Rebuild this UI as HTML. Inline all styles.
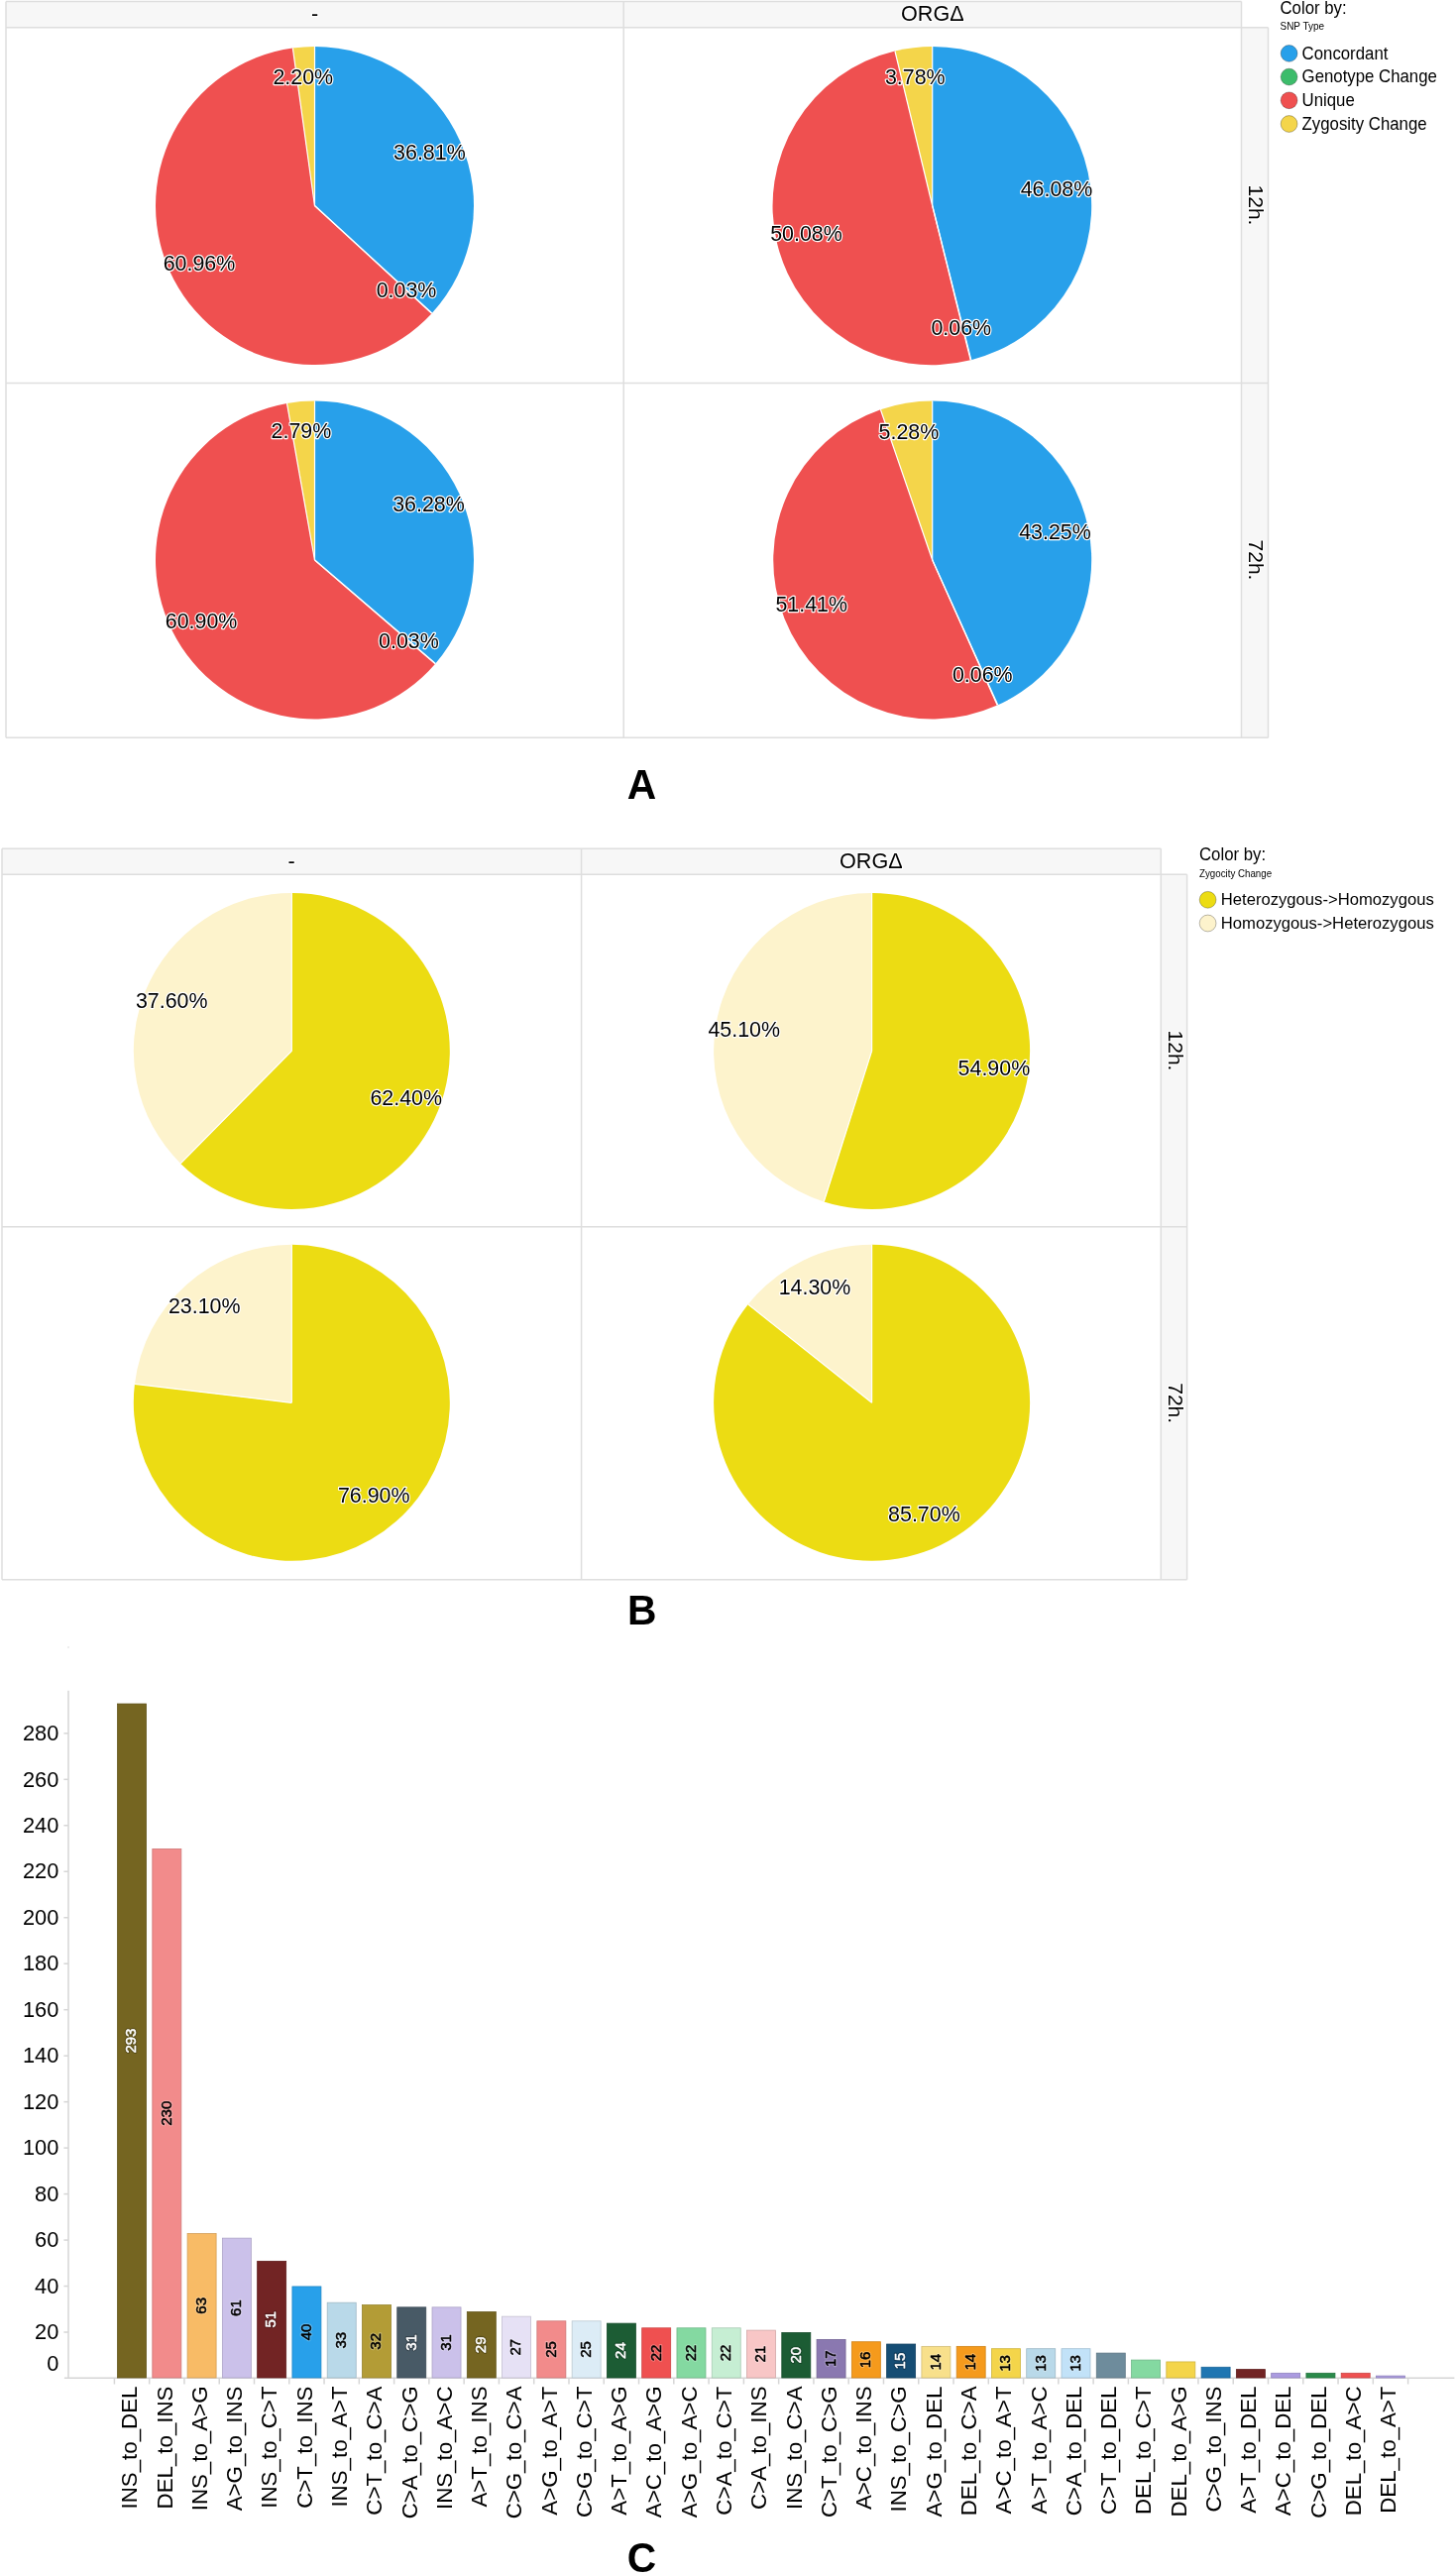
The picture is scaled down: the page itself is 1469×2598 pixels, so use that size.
<!DOCTYPE html><html><head><meta charset="utf-8"><style>
html,body{margin:0;padding:0;background:#fff;}
svg{display:block;will-change:transform;font-family:"Liberation Sans",sans-serif;}
.lbl{text-anchor:middle;fill:#000;stroke:#fff;stroke-width:2.3px;paint-order:stroke;stroke-linejoin:round;}
.hdr{text-anchor:middle;fill:#000;stroke:#fff;stroke-width:2.3px;paint-order:stroke;stroke-linejoin:round;}
.leg{fill:#000;}
.ax{text-anchor:end;fill:#000;}
.xl{text-anchor:end;fill:#000;}
.vl{text-anchor:middle;stroke-linejoin:round;}
.big{text-anchor:middle;font-weight:bold;fill:#000;}
</style></head><body>
<svg width="1469" height="2598" viewBox="0 0 1469 2598">
<rect x="6" y="1.5" width="1246.5" height="26.3" fill="#f7f7f7"/>
<rect x="1252.5" y="27.8" width="27" height="716.5" fill="#f7f7f7"/>
<line x1="6" y1="1.5" x2="1252.5" y2="1.5" stroke="#dedede" stroke-width="1.5"/>
<line x1="6" y1="27.8" x2="1279.5" y2="27.8" stroke="#dedede" stroke-width="1.5"/>
<line x1="6" y1="386.4" x2="1279.5" y2="386.4" stroke="#dedede" stroke-width="1.5"/>
<line x1="6" y1="744.3" x2="1279.5" y2="744.3" stroke="#dedede" stroke-width="1.5"/>
<line x1="6" y1="1.5" x2="6" y2="744.3" stroke="#dedede" stroke-width="1.5"/>
<line x1="629.2" y1="1.5" x2="629.2" y2="744.3" stroke="#dedede" stroke-width="1.5"/>
<line x1="1252.5" y1="1.5" x2="1252.5" y2="744.3" stroke="#dedede" stroke-width="1.5"/>
<line x1="1279.5" y1="27.8" x2="1279.5" y2="744.3" stroke="#dedede" stroke-width="1.5"/>
<text class="hdr" transform="translate(317.5 20.8) scale(1 1.04)" font-size="21.6">-</text>
<text class="hdr" transform="translate(940.8 20.8) scale(1 1.04)" font-size="21.6">ORG&#916;</text>
<text class="hdr" transform="translate(1259.8 207) rotate(90)" x="0" y="0" font-size="21">12h.</text>
<text class="hdr" transform="translate(1259.8 565) rotate(90)" x="0" y="0" font-size="21">72h.</text>
<path d="M317.5 207.5 L317.5 47 A160.5 160.5 0 0 1 435.8 315.97 Z" fill="#28a0ea"/>
<path d="M317.5 207.5 L435.8 315.97 A160.5 160.5 0 0 1 435.6 316.19 Z" fill="#3dbc6b"/>
<path d="M317.5 207.5 L435.6 316.19 A160.5 160.5 0 1 1 295.38 48.53 Z" fill="#ef5050"/>
<path d="M317.5 207.5 L295.38 48.53 A160.5 160.5 0 0 1 317.5 47 Z" fill="#f4d54a"/>
<line x1="317.5" y1="207.5" x2="317.5" y2="47" stroke="#fff" stroke-width="1.2"/>
<line x1="317.5" y1="207.5" x2="435.8" y2="315.97" stroke="#fff" stroke-width="1.2"/>
<line x1="317.5" y1="207.5" x2="435.6" y2="316.19" stroke="#fff" stroke-width="1.2"/>
<line x1="317.5" y1="207.5" x2="295.38" y2="48.53" stroke="#fff" stroke-width="1.2"/>
<path d="M940.7 207.5 L940.7 47 A160.5 160.5 0 0 1 979.83 363.16 Z" fill="#28a0ea"/>
<path d="M940.7 207.5 L979.83 363.16 A160.5 160.5 0 0 1 979.25 363.3 Z" fill="#3dbc6b"/>
<path d="M940.7 207.5 L979.25 363.3 A160.5 160.5 0 1 1 902.94 51.51 Z" fill="#ef5050"/>
<path d="M940.7 207.5 L902.94 51.51 A160.5 160.5 0 0 1 940.7 47 Z" fill="#f4d54a"/>
<line x1="940.7" y1="207.5" x2="940.7" y2="47" stroke="#fff" stroke-width="1.2"/>
<line x1="940.7" y1="207.5" x2="979.83" y2="363.16" stroke="#fff" stroke-width="1.2"/>
<line x1="940.7" y1="207.5" x2="979.25" y2="363.3" stroke="#fff" stroke-width="1.2"/>
<line x1="940.7" y1="207.5" x2="902.94" y2="51.51" stroke="#fff" stroke-width="1.2"/>
<path d="M317.5 565 L317.5 404.5 A160.5 160.5 0 0 1 439.35 669.47 Z" fill="#28a0ea"/>
<path d="M317.5 565 L439.35 669.47 A160.5 160.5 0 0 1 439.15 669.7 Z" fill="#3dbc6b"/>
<path d="M317.5 565 L439.15 669.7 A160.5 160.5 0 1 1 289.51 406.96 Z" fill="#ef5050"/>
<path d="M317.5 565 L289.51 406.96 A160.5 160.5 0 0 1 317.5 404.5 Z" fill="#f4d54a"/>
<line x1="317.5" y1="565" x2="317.5" y2="404.5" stroke="#fff" stroke-width="1.2"/>
<line x1="317.5" y1="565" x2="439.35" y2="669.47" stroke="#fff" stroke-width="1.2"/>
<line x1="317.5" y1="565" x2="439.15" y2="669.7" stroke="#fff" stroke-width="1.2"/>
<line x1="317.5" y1="565" x2="289.51" y2="406.96" stroke="#fff" stroke-width="1.2"/>
<path d="M940.7 565 L940.7 404.5 A160.5 160.5 0 0 1 1006.75 711.28 Z" fill="#28a0ea"/>
<path d="M940.7 565 L1006.75 711.28 A160.5 160.5 0 0 1 1006.2 711.53 Z" fill="#3dbc6b"/>
<path d="M940.7 565 L1006.2 711.53 A160.5 160.5 0 1 1 888.43 413.25 Z" fill="#ef5050"/>
<path d="M940.7 565 L888.43 413.25 A160.5 160.5 0 0 1 940.7 404.5 Z" fill="#f4d54a"/>
<line x1="940.7" y1="565" x2="940.7" y2="404.5" stroke="#fff" stroke-width="1.2"/>
<line x1="940.7" y1="565" x2="1006.75" y2="711.28" stroke="#fff" stroke-width="1.2"/>
<line x1="940.7" y1="565" x2="1006.2" y2="711.53" stroke="#fff" stroke-width="1.2"/>
<line x1="940.7" y1="565" x2="888.43" y2="413.25" stroke="#fff" stroke-width="1.2"/>
<text class="lbl" transform="translate(305.8 84.9) scale(1 1.04)" font-size="21.4">2.20%</text>
<text class="lbl" transform="translate(433.4 161.3) scale(1 1.04)" font-size="21.4">36.81%</text>
<text class="lbl" transform="translate(201 273.3) scale(1 1.04)" font-size="21.4">60.96%</text>
<text class="lbl" transform="translate(410 299.7) scale(1 1.04)" font-size="21.4">0.03%</text>
<text class="lbl" transform="translate(923.3 84.9) scale(1 1.04)" font-size="21.4">3.78%</text>
<text class="lbl" transform="translate(1066 197.5) scale(1 1.04)" font-size="21.4">46.08%</text>
<text class="lbl" transform="translate(813.5 243.2) scale(1 1.04)" font-size="21.4">50.08%</text>
<text class="lbl" transform="translate(969.8 338.3) scale(1 1.04)" font-size="21.4">0.06%</text>
<text class="lbl" transform="translate(303.9 442.4) scale(1 1.04)" font-size="21.4">2.79%</text>
<text class="lbl" transform="translate(432.5 516) scale(1 1.04)" font-size="21.4">36.28%</text>
<text class="lbl" transform="translate(203.1 634.4) scale(1 1.04)" font-size="21.4">60.90%</text>
<text class="lbl" transform="translate(412.4 654.2) scale(1 1.04)" font-size="21.4">0.03%</text>
<text class="lbl" transform="translate(916.9 442.9) scale(1 1.04)" font-size="21.4">5.28%</text>
<text class="lbl" transform="translate(1064.5 543.8) scale(1 1.04)" font-size="21.4">43.25%</text>
<text class="lbl" transform="translate(818.7 617.3) scale(1 1.04)" font-size="21.4">51.41%</text>
<text class="lbl" transform="translate(991.3 687.6) scale(1 1.04)" font-size="21.4">0.06%</text>
<text class="leg" transform="translate(1291.5 13.6) scale(1 1.04)" font-size="16.8">Color by:</text>
<text class="leg" transform="translate(1291.5 30.4) scale(1 1.04)" font-size="10">SNP Type</text>
<circle cx="1300.6" cy="53.9" r="8.4" fill="#28a0ea" stroke="rgba(0,0,0,0.35)" stroke-width="0.8"/>
<text class="leg" transform="translate(1313.6 59.5) scale(1 1.04)" font-size="16.8">Concordant</text>
<circle cx="1300.6" cy="77.6" r="8.4" fill="#3dbc6b" stroke="rgba(0,0,0,0.35)" stroke-width="0.8"/>
<text class="leg" transform="translate(1313.6 83.2) scale(1 1.04)" font-size="16.8">Genotype Change</text>
<circle cx="1300.6" cy="101.3" r="8.4" fill="#ef5050" stroke="rgba(0,0,0,0.35)" stroke-width="0.8"/>
<text class="leg" transform="translate(1313.6 106.9) scale(1 1.04)" font-size="16.8">Unique</text>
<circle cx="1300.6" cy="125" r="8.4" fill="#f4d54a" stroke="rgba(0,0,0,0.35)" stroke-width="0.8"/>
<text class="leg" transform="translate(1313.6 130.6) scale(1 1.04)" font-size="16.8">Zygosity Change</text>
<text class="big" transform="translate(647.4 806) scale(1 1.04)" font-size="40.8">A</text>
<rect x="2" y="856.2" width="1169.3" height="26.1" fill="#f7f7f7"/>
<rect x="1171.3" y="882.3" width="26.3" height="711.4" fill="#f7f7f7"/>
<line x1="2" y1="856.2" x2="1171.3" y2="856.2" stroke="#dedede" stroke-width="1.5"/>
<line x1="2" y1="882.3" x2="1197.6" y2="882.3" stroke="#dedede" stroke-width="1.5"/>
<line x1="2" y1="1237.8" x2="1197.6" y2="1237.8" stroke="#dedede" stroke-width="1.5"/>
<line x1="2" y1="1593.7" x2="1197.6" y2="1593.7" stroke="#dedede" stroke-width="1.5"/>
<line x1="2" y1="856.2" x2="2" y2="1593.7" stroke="#dedede" stroke-width="1.5"/>
<line x1="586.6" y1="856.2" x2="586.6" y2="1593.7" stroke="#dedede" stroke-width="1.5"/>
<line x1="1171.3" y1="856.2" x2="1171.3" y2="1593.7" stroke="#dedede" stroke-width="1.5"/>
<line x1="1197.6" y1="882.3" x2="1197.6" y2="1593.7" stroke="#dedede" stroke-width="1.5"/>
<text class="hdr" transform="translate(294.1 875.5) scale(1 1.04)" font-size="21.6">-</text>
<text class="hdr" transform="translate(878.8 875.5) scale(1 1.04)" font-size="21.6">ORG&#916;</text>
<text class="hdr" transform="translate(1178.6 1060) rotate(90)" x="0" y="0" font-size="21">12h.</text>
<text class="hdr" transform="translate(1178.6 1415.7) rotate(90)" x="0" y="0" font-size="21">72h.</text>
<path d="M294.3 1060.4 L294.3 900.9 A159.5 159.5 0 1 1 182.23 1173.89 Z" fill="#ecdc13"/>
<path d="M294.3 1060.4 L182.23 1173.89 A159.5 159.5 0 0 1 294.3 900.9 Z" fill="#fdf3cc"/>
<line x1="294.3" y1="1060.4" x2="294.3" y2="900.9" stroke="#fff" stroke-width="1.2"/>
<line x1="294.3" y1="1060.4" x2="182.23" y2="1173.89" stroke="#fff" stroke-width="1.2"/>
<path d="M879.6 1060.4 L879.6 900.9 A159.5 159.5 0 1 1 831.27 1212.4 Z" fill="#ecdc13"/>
<path d="M879.6 1060.4 L831.27 1212.4 A159.5 159.5 0 0 1 879.6 900.9 Z" fill="#fdf3cc"/>
<line x1="879.6" y1="1060.4" x2="879.6" y2="900.9" stroke="#fff" stroke-width="1.2"/>
<line x1="879.6" y1="1060.4" x2="831.27" y2="1212.4" stroke="#fff" stroke-width="1.2"/>
<path d="M294.3 1415.3 L294.3 1255.8 A159.5 159.5 0 1 1 135.94 1396.3 Z" fill="#ecdc13"/>
<path d="M294.3 1415.3 L135.94 1396.3 A159.5 159.5 0 0 1 294.3 1255.8 Z" fill="#fdf3cc"/>
<line x1="294.3" y1="1415.3" x2="294.3" y2="1255.8" stroke="#fff" stroke-width="1.2"/>
<line x1="294.3" y1="1415.3" x2="135.94" y2="1396.3" stroke="#fff" stroke-width="1.2"/>
<path d="M879.6 1415.3 L879.6 1255.8 A159.5 159.5 0 1 1 754.81 1315.97 Z" fill="#ecdc13"/>
<path d="M879.6 1415.3 L754.81 1315.97 A159.5 159.5 0 0 1 879.6 1255.8 Z" fill="#fdf3cc"/>
<line x1="879.6" y1="1415.3" x2="879.6" y2="1255.8" stroke="#fff" stroke-width="1.2"/>
<line x1="879.6" y1="1415.3" x2="754.81" y2="1315.97" stroke="#fff" stroke-width="1.2"/>
<text class="lbl" transform="translate(173.2 1017.3) scale(1 1.04)" font-size="21.4">37.60%</text>
<text class="lbl" transform="translate(409.7 1114.7) scale(1 1.04)" font-size="21.4">62.40%</text>
<text class="lbl" transform="translate(750.7 1045.8) scale(1 1.04)" font-size="21.4">45.10%</text>
<text class="lbl" transform="translate(1002.9 1085) scale(1 1.04)" font-size="21.4">54.90%</text>
<text class="lbl" transform="translate(206.2 1324.9) scale(1 1.04)" font-size="21.4">23.10%</text>
<text class="lbl" transform="translate(377.2 1516.4) scale(1 1.04)" font-size="21.4">76.90%</text>
<text class="lbl" transform="translate(822 1305.8) scale(1 1.04)" font-size="21.4">14.30%</text>
<text class="lbl" transform="translate(932.4 1535.1) scale(1 1.04)" font-size="21.4">85.70%</text>
<text class="leg" transform="translate(1210 867.8) scale(1 1.04)" font-size="16.8">Color by:</text>
<text class="leg" transform="translate(1210 885) scale(1 1.04)" font-size="9.75">Zygocity Change</text>
<circle cx="1218.6" cy="907.8" r="8.4" fill="#ecdc13" stroke="rgba(0,0,0,0.35)" stroke-width="0.8"/>
<text class="leg" transform="translate(1231.8 913.4) scale(1 1.04)" font-size="16.65">Heterozygous-&gt;Homozygous</text>
<circle cx="1218.6" cy="931.5" r="8.4" fill="#fdf3cc" stroke="rgba(0,0,0,0.35)" stroke-width="0.8"/>
<text class="leg" transform="translate(1231.8 937.1) scale(1 1.04)" font-size="16.65">Homozygous-&gt;Heterozygous</text>
<text class="big" transform="translate(647.8 1638.6) scale(1 1.04)" font-size="40.8">B</text>
<line x1="69" y1="1705.8" x2="69" y2="2399.5" stroke="#d6d6d6" stroke-width="1.5"/>
<rect x="68.5" y="1661.5" width="1" height="1" fill="#bbb"/>
<line x1="64.9" y1="2399.3" x2="1467.4" y2="2399.3" stroke="#d6d6d6" stroke-width="1.5"/>
<line x1="64.4" y1="2353.02" x2="69" y2="2353.02" stroke="#d6d6d6" stroke-width="1.5"/>
<text class="ax" transform="translate(59.3 2360.22) scale(1 1.04)" font-size="21.8">20</text>
<line x1="64.4" y1="2306.55" x2="69" y2="2306.55" stroke="#d6d6d6" stroke-width="1.5"/>
<text class="ax" transform="translate(59.3 2313.75) scale(1 1.04)" font-size="21.8">40</text>
<line x1="64.4" y1="2260.07" x2="69" y2="2260.07" stroke="#d6d6d6" stroke-width="1.5"/>
<text class="ax" transform="translate(59.3 2267.27) scale(1 1.04)" font-size="21.8">60</text>
<line x1="64.4" y1="2213.6" x2="69" y2="2213.6" stroke="#d6d6d6" stroke-width="1.5"/>
<text class="ax" transform="translate(59.3 2220.8) scale(1 1.04)" font-size="21.8">80</text>
<line x1="64.4" y1="2167.12" x2="69" y2="2167.12" stroke="#d6d6d6" stroke-width="1.5"/>
<text class="ax" transform="translate(59.3 2174.32) scale(1 1.04)" font-size="21.8">100</text>
<line x1="64.4" y1="2120.64" x2="69" y2="2120.64" stroke="#d6d6d6" stroke-width="1.5"/>
<text class="ax" transform="translate(59.3 2127.84) scale(1 1.04)" font-size="21.8">120</text>
<line x1="64.4" y1="2074.17" x2="69" y2="2074.17" stroke="#d6d6d6" stroke-width="1.5"/>
<text class="ax" transform="translate(59.3 2081.37) scale(1 1.04)" font-size="21.8">140</text>
<line x1="64.4" y1="2027.69" x2="69" y2="2027.69" stroke="#d6d6d6" stroke-width="1.5"/>
<text class="ax" transform="translate(59.3 2034.89) scale(1 1.04)" font-size="21.8">160</text>
<line x1="64.4" y1="1981.22" x2="69" y2="1981.22" stroke="#d6d6d6" stroke-width="1.5"/>
<text class="ax" transform="translate(59.3 1988.42) scale(1 1.04)" font-size="21.8">180</text>
<line x1="64.4" y1="1934.74" x2="69" y2="1934.74" stroke="#d6d6d6" stroke-width="1.5"/>
<text class="ax" transform="translate(59.3 1941.94) scale(1 1.04)" font-size="21.8">200</text>
<line x1="64.4" y1="1888.26" x2="69" y2="1888.26" stroke="#d6d6d6" stroke-width="1.5"/>
<text class="ax" transform="translate(59.3 1895.46) scale(1 1.04)" font-size="21.8">220</text>
<line x1="64.4" y1="1841.79" x2="69" y2="1841.79" stroke="#d6d6d6" stroke-width="1.5"/>
<text class="ax" transform="translate(59.3 1848.99) scale(1 1.04)" font-size="21.8">240</text>
<line x1="64.4" y1="1795.31" x2="69" y2="1795.31" stroke="#d6d6d6" stroke-width="1.5"/>
<text class="ax" transform="translate(59.3 1802.51) scale(1 1.04)" font-size="21.8">260</text>
<line x1="64.4" y1="1748.84" x2="69" y2="1748.84" stroke="#d6d6d6" stroke-width="1.5"/>
<text class="ax" transform="translate(59.3 1756.04) scale(1 1.04)" font-size="21.8">280</text>
<text class="ax" transform="translate(59.3 2392.2) scale(1 1.04)" font-size="21.8">0</text>
<line x1="115.4" y1="2399.3" x2="115.4" y2="2405.5" stroke="#d6d6d6" stroke-width="1.5"/>
<line x1="150.68" y1="2399.3" x2="150.68" y2="2405.5" stroke="#d6d6d6" stroke-width="1.5"/>
<line x1="185.95" y1="2399.3" x2="185.95" y2="2405.5" stroke="#d6d6d6" stroke-width="1.5"/>
<line x1="221.23" y1="2399.3" x2="221.23" y2="2405.5" stroke="#d6d6d6" stroke-width="1.5"/>
<line x1="256.5" y1="2399.3" x2="256.5" y2="2405.5" stroke="#d6d6d6" stroke-width="1.5"/>
<line x1="291.78" y1="2399.3" x2="291.78" y2="2405.5" stroke="#d6d6d6" stroke-width="1.5"/>
<line x1="327.06" y1="2399.3" x2="327.06" y2="2405.5" stroke="#d6d6d6" stroke-width="1.5"/>
<line x1="362.33" y1="2399.3" x2="362.33" y2="2405.5" stroke="#d6d6d6" stroke-width="1.5"/>
<line x1="397.61" y1="2399.3" x2="397.61" y2="2405.5" stroke="#d6d6d6" stroke-width="1.5"/>
<line x1="432.88" y1="2399.3" x2="432.88" y2="2405.5" stroke="#d6d6d6" stroke-width="1.5"/>
<line x1="468.16" y1="2399.3" x2="468.16" y2="2405.5" stroke="#d6d6d6" stroke-width="1.5"/>
<line x1="503.44" y1="2399.3" x2="503.44" y2="2405.5" stroke="#d6d6d6" stroke-width="1.5"/>
<line x1="538.71" y1="2399.3" x2="538.71" y2="2405.5" stroke="#d6d6d6" stroke-width="1.5"/>
<line x1="573.99" y1="2399.3" x2="573.99" y2="2405.5" stroke="#d6d6d6" stroke-width="1.5"/>
<line x1="609.26" y1="2399.3" x2="609.26" y2="2405.5" stroke="#d6d6d6" stroke-width="1.5"/>
<line x1="644.54" y1="2399.3" x2="644.54" y2="2405.5" stroke="#d6d6d6" stroke-width="1.5"/>
<line x1="679.82" y1="2399.3" x2="679.82" y2="2405.5" stroke="#d6d6d6" stroke-width="1.5"/>
<line x1="715.09" y1="2399.3" x2="715.09" y2="2405.5" stroke="#d6d6d6" stroke-width="1.5"/>
<line x1="750.37" y1="2399.3" x2="750.37" y2="2405.5" stroke="#d6d6d6" stroke-width="1.5"/>
<line x1="785.64" y1="2399.3" x2="785.64" y2="2405.5" stroke="#d6d6d6" stroke-width="1.5"/>
<line x1="820.92" y1="2399.3" x2="820.92" y2="2405.5" stroke="#d6d6d6" stroke-width="1.5"/>
<line x1="856.2" y1="2399.3" x2="856.2" y2="2405.5" stroke="#d6d6d6" stroke-width="1.5"/>
<line x1="891.47" y1="2399.3" x2="891.47" y2="2405.5" stroke="#d6d6d6" stroke-width="1.5"/>
<line x1="926.75" y1="2399.3" x2="926.75" y2="2405.5" stroke="#d6d6d6" stroke-width="1.5"/>
<line x1="962.02" y1="2399.3" x2="962.02" y2="2405.5" stroke="#d6d6d6" stroke-width="1.5"/>
<line x1="997.3" y1="2399.3" x2="997.3" y2="2405.5" stroke="#d6d6d6" stroke-width="1.5"/>
<line x1="1032.58" y1="2399.3" x2="1032.58" y2="2405.5" stroke="#d6d6d6" stroke-width="1.5"/>
<line x1="1067.85" y1="2399.3" x2="1067.85" y2="2405.5" stroke="#d6d6d6" stroke-width="1.5"/>
<line x1="1103.13" y1="2399.3" x2="1103.13" y2="2405.5" stroke="#d6d6d6" stroke-width="1.5"/>
<line x1="1138.4" y1="2399.3" x2="1138.4" y2="2405.5" stroke="#d6d6d6" stroke-width="1.5"/>
<line x1="1173.68" y1="2399.3" x2="1173.68" y2="2405.5" stroke="#d6d6d6" stroke-width="1.5"/>
<line x1="1208.96" y1="2399.3" x2="1208.96" y2="2405.5" stroke="#d6d6d6" stroke-width="1.5"/>
<line x1="1244.23" y1="2399.3" x2="1244.23" y2="2405.5" stroke="#d6d6d6" stroke-width="1.5"/>
<line x1="1279.51" y1="2399.3" x2="1279.51" y2="2405.5" stroke="#d6d6d6" stroke-width="1.5"/>
<line x1="1314.78" y1="2399.3" x2="1314.78" y2="2405.5" stroke="#d6d6d6" stroke-width="1.5"/>
<line x1="1350.06" y1="2399.3" x2="1350.06" y2="2405.5" stroke="#d6d6d6" stroke-width="1.5"/>
<line x1="1385.34" y1="2399.3" x2="1385.34" y2="2405.5" stroke="#d6d6d6" stroke-width="1.5"/>
<line x1="1420.61" y1="2399.3" x2="1420.61" y2="2405.5" stroke="#d6d6d6" stroke-width="1.5"/>
<rect x="118.55" y="1719.03" width="29" height="679.97" fill="#756521" stroke="#63561c" stroke-width="0.8"/>
<text class="xl" transform="translate(138.35 2407.5) rotate(-90)" x="0" y="0" font-size="22.3">INS_to_DEL</text>
<text class="vl" transform="translate(133.05 2059.06) rotate(-90)" x="0" y="4.3" font-size="15" fill="none" stroke="#403812" stroke-width="2.6" opacity="0.55">293</text>
<text class="vl" transform="translate(133.05 2059.06) rotate(-90)" x="0" y="4.3" font-size="15" fill="#fff" stroke="#fff" stroke-width="0.5">293</text>
<rect x="153.83" y="1865.43" width="29" height="533.57" fill="#f28b8b" stroke="#ce7676" stroke-width="0.8"/>
<text class="xl" transform="translate(173.63 2407.5) rotate(-90)" x="0" y="0" font-size="22.3">DEL_to_INS</text>
<text class="vl" transform="translate(168.33 2132.26) rotate(-90)" x="0" y="4.3" font-size="15" fill="none" stroke="#f8bfbf" stroke-width="2.6" opacity="0.55">230</text>
<text class="vl" transform="translate(168.33 2132.26) rotate(-90)" x="0" y="4.3" font-size="15" fill="#000" stroke="#000" stroke-width="0.5">230</text>
<rect x="189.1" y="2253.5" width="29" height="145.5" fill="#f8bb66" stroke="#d39f57" stroke-width="0.8"/>
<text class="xl" transform="translate(208.9 2407.5) rotate(-90)" x="0" y="0" font-size="22.3">INS_to_A&gt;G</text>
<text class="vl" transform="translate(203.6 2326.3) rotate(-90)" x="0" y="4.3" font-size="15" fill="none" stroke="#fbdaab" stroke-width="2.6" opacity="0.55">63</text>
<text class="vl" transform="translate(203.6 2326.3) rotate(-90)" x="0" y="4.3" font-size="15" fill="#000" stroke="#000" stroke-width="0.5">63</text>
<rect x="224.38" y="2258.15" width="29" height="140.85" fill="#cbc1ea" stroke="#ada4c7" stroke-width="0.8"/>
<text class="xl" transform="translate(244.18 2407.5) rotate(-90)" x="0" y="0" font-size="22.3">A&gt;G_to_INS</text>
<text class="vl" transform="translate(238.88 2328.62) rotate(-90)" x="0" y="4.3" font-size="15" fill="none" stroke="#e2ddf3" stroke-width="2.6" opacity="0.55">61</text>
<text class="vl" transform="translate(238.88 2328.62) rotate(-90)" x="0" y="4.3" font-size="15" fill="#000" stroke="#000" stroke-width="0.5">61</text>
<rect x="259.65" y="2281.39" width="29" height="117.61" fill="#722424" stroke="#611f1f" stroke-width="0.8"/>
<text class="xl" transform="translate(279.45 2407.5) rotate(-90)" x="0" y="0" font-size="22.3">INS_to_C&gt;T</text>
<text class="vl" transform="translate(274.15 2340.24) rotate(-90)" x="0" y="4.3" font-size="15" fill="none" stroke="#3f1414" stroke-width="2.6" opacity="0.55">51</text>
<text class="vl" transform="translate(274.15 2340.24) rotate(-90)" x="0" y="4.3" font-size="15" fill="#fff" stroke="#fff" stroke-width="0.5">51</text>
<rect x="294.93" y="2306.95" width="29" height="92.05" fill="#28a0ea" stroke="#2288c7" stroke-width="0.8"/>
<text class="xl" transform="translate(314.73 2407.5) rotate(-90)" x="0" y="0" font-size="22.3">C&gt;T_to_INS</text>
<text class="vl" transform="translate(309.43 2353.02) rotate(-90)" x="0" y="4.3" font-size="15" fill="none" stroke="#89cbf3" stroke-width="2.6" opacity="0.55">40</text>
<text class="vl" transform="translate(309.43 2353.02) rotate(-90)" x="0" y="4.3" font-size="15" fill="#000" stroke="#000" stroke-width="0.5">40</text>
<rect x="330.21" y="2323.21" width="29" height="75.79" fill="#b9d9e9" stroke="#9db8c6" stroke-width="0.8"/>
<text class="xl" transform="translate(350.01 2407.5) rotate(-90)" x="0" y="0" font-size="22.3">INS_to_A&gt;T</text>
<text class="vl" transform="translate(344.71 2361.16) rotate(-90)" x="0" y="4.3" font-size="15" fill="none" stroke="#d8eaf3" stroke-width="2.6" opacity="0.55">33</text>
<text class="vl" transform="translate(344.71 2361.16) rotate(-90)" x="0" y="4.3" font-size="15" fill="#000" stroke="#000" stroke-width="0.5">33</text>
<rect x="365.48" y="2325.54" width="29" height="73.46" fill="#b39c36" stroke="#98852e" stroke-width="0.8"/>
<text class="xl" transform="translate(385.28 2407.5) rotate(-90)" x="0" y="0" font-size="22.3">C&gt;T_to_C&gt;A</text>
<text class="vl" transform="translate(379.98 2362.32) rotate(-90)" x="0" y="4.3" font-size="15" fill="none" stroke="#d5c990" stroke-width="2.6" opacity="0.55">32</text>
<text class="vl" transform="translate(379.98 2362.32) rotate(-90)" x="0" y="4.3" font-size="15" fill="#000" stroke="#000" stroke-width="0.5">32</text>
<rect x="400.76" y="2327.86" width="29" height="71.14" fill="#485a66" stroke="#3d4c57" stroke-width="0.8"/>
<text class="xl" transform="translate(420.56 2407.5) rotate(-90)" x="0" y="0" font-size="22.3">C&gt;A_to_C&gt;G</text>
<text class="vl" transform="translate(415.26 2363.48) rotate(-90)" x="0" y="4.3" font-size="15" fill="none" stroke="#283238" stroke-width="2.6" opacity="0.55">31</text>
<text class="vl" transform="translate(415.26 2363.48) rotate(-90)" x="0" y="4.3" font-size="15" fill="#fff" stroke="#fff" stroke-width="0.5">31</text>
<rect x="436.03" y="2327.86" width="29" height="71.14" fill="#cbc1ea" stroke="#ada4c7" stroke-width="0.8"/>
<text class="xl" transform="translate(455.83 2407.5) rotate(-90)" x="0" y="0" font-size="22.3">INS_to_A&gt;C</text>
<text class="vl" transform="translate(450.53 2363.48) rotate(-90)" x="0" y="4.3" font-size="15" fill="none" stroke="#e2ddf3" stroke-width="2.6" opacity="0.55">31</text>
<text class="vl" transform="translate(450.53 2363.48) rotate(-90)" x="0" y="4.3" font-size="15" fill="#000" stroke="#000" stroke-width="0.5">31</text>
<rect x="471.31" y="2332.51" width="29" height="66.49" fill="#756521" stroke="#63561c" stroke-width="0.8"/>
<text class="xl" transform="translate(491.11 2407.5) rotate(-90)" x="0" y="0" font-size="22.3">A&gt;T_to_INS</text>
<text class="vl" transform="translate(485.81 2365.8) rotate(-90)" x="0" y="4.3" font-size="15" fill="none" stroke="#403812" stroke-width="2.6" opacity="0.55">29</text>
<text class="vl" transform="translate(485.81 2365.8) rotate(-90)" x="0" y="4.3" font-size="15" fill="#fff" stroke="#fff" stroke-width="0.5">29</text>
<rect x="506.59" y="2337.16" width="29" height="61.84" fill="#e6e1f5" stroke="#c4bfd0" stroke-width="0.8"/>
<text class="xl" transform="translate(526.39 2407.5) rotate(-90)" x="0" y="0" font-size="22.3">C&gt;G_to_C&gt;A</text>
<text class="vl" transform="translate(521.09 2368.13) rotate(-90)" x="0" y="4.3" font-size="15" fill="none" stroke="#f1eefa" stroke-width="2.6" opacity="0.55">27</text>
<text class="vl" transform="translate(521.09 2368.13) rotate(-90)" x="0" y="4.3" font-size="15" fill="#000" stroke="#000" stroke-width="0.5">27</text>
<rect x="541.86" y="2341.81" width="29" height="57.19" fill="#f28b8b" stroke="#ce7676" stroke-width="0.8"/>
<text class="xl" transform="translate(561.66 2407.5) rotate(-90)" x="0" y="0" font-size="22.3">A&gt;G_to_A&gt;T</text>
<text class="vl" transform="translate(556.36 2370.45) rotate(-90)" x="0" y="4.3" font-size="15" fill="none" stroke="#f8bfbf" stroke-width="2.6" opacity="0.55">25</text>
<text class="vl" transform="translate(556.36 2370.45) rotate(-90)" x="0" y="4.3" font-size="15" fill="#000" stroke="#000" stroke-width="0.5">25</text>
<rect x="577.14" y="2341.81" width="29" height="57.19" fill="#dcecf6" stroke="#bbc9d1" stroke-width="0.8"/>
<text class="xl" transform="translate(596.94 2407.5) rotate(-90)" x="0" y="0" font-size="22.3">C&gt;G_to_C&gt;T</text>
<text class="vl" transform="translate(591.64 2370.45) rotate(-90)" x="0" y="4.3" font-size="15" fill="none" stroke="#ecf5fa" stroke-width="2.6" opacity="0.55">25</text>
<text class="vl" transform="translate(591.64 2370.45) rotate(-90)" x="0" y="4.3" font-size="15" fill="#000" stroke="#000" stroke-width="0.5">25</text>
<rect x="612.41" y="2344.13" width="29" height="54.87" fill="#1c5c34" stroke="#184e2c" stroke-width="0.8"/>
<text class="xl" transform="translate(632.21 2407.5) rotate(-90)" x="0" y="0" font-size="22.3">A&gt;T_to_A&gt;G</text>
<text class="vl" transform="translate(626.91 2371.61) rotate(-90)" x="0" y="4.3" font-size="15" fill="none" stroke="#0f331d" stroke-width="2.6" opacity="0.55">24</text>
<text class="vl" transform="translate(626.91 2371.61) rotate(-90)" x="0" y="4.3" font-size="15" fill="#fff" stroke="#fff" stroke-width="0.5">24</text>
<rect x="647.69" y="2348.78" width="29" height="50.22" fill="#ef5050" stroke="#cb4444" stroke-width="0.8"/>
<text class="xl" transform="translate(667.49 2407.5) rotate(-90)" x="0" y="0" font-size="22.3">A&gt;C_to_A&gt;G</text>
<text class="vl" transform="translate(662.19 2373.94) rotate(-90)" x="0" y="4.3" font-size="15" fill="none" stroke="#f69f9f" stroke-width="2.6" opacity="0.55">22</text>
<text class="vl" transform="translate(662.19 2373.94) rotate(-90)" x="0" y="4.3" font-size="15" fill="#000" stroke="#000" stroke-width="0.5">22</text>
<rect x="682.97" y="2348.78" width="29" height="50.22" fill="#84d9a1" stroke="#70b889" stroke-width="0.8"/>
<text class="xl" transform="translate(702.77 2407.5) rotate(-90)" x="0" y="0" font-size="22.3">A&gt;G_to_A&gt;C</text>
<text class="vl" transform="translate(697.47 2373.94) rotate(-90)" x="0" y="4.3" font-size="15" fill="none" stroke="#bbeacb" stroke-width="2.6" opacity="0.55">22</text>
<text class="vl" transform="translate(697.47 2373.94) rotate(-90)" x="0" y="4.3" font-size="15" fill="#000" stroke="#000" stroke-width="0.5">22</text>
<rect x="718.24" y="2348.78" width="29" height="50.22" fill="#c6eed3" stroke="#a8cab3" stroke-width="0.8"/>
<text class="xl" transform="translate(738.04 2407.5) rotate(-90)" x="0" y="0" font-size="22.3">C&gt;A_to_C&gt;T</text>
<text class="vl" transform="translate(732.74 2373.94) rotate(-90)" x="0" y="4.3" font-size="15" fill="none" stroke="#e0f6e7" stroke-width="2.6" opacity="0.55">22</text>
<text class="vl" transform="translate(732.74 2373.94) rotate(-90)" x="0" y="4.3" font-size="15" fill="#000" stroke="#000" stroke-width="0.5">22</text>
<rect x="753.52" y="2351.1" width="29" height="47.9" fill="#f8c6c6" stroke="#d3a8a8" stroke-width="0.8"/>
<text class="xl" transform="translate(773.32 2407.5) rotate(-90)" x="0" y="0" font-size="22.3">C&gt;A_to_INS</text>
<text class="vl" transform="translate(768.02 2375.1) rotate(-90)" x="0" y="4.3" font-size="15" fill="none" stroke="#fbe0e0" stroke-width="2.6" opacity="0.55">21</text>
<text class="vl" transform="translate(768.02 2375.1) rotate(-90)" x="0" y="4.3" font-size="15" fill="#000" stroke="#000" stroke-width="0.5">21</text>
<rect x="788.79" y="2353.42" width="29" height="45.58" fill="#1c5c34" stroke="#184e2c" stroke-width="0.8"/>
<text class="xl" transform="translate(808.59 2407.5) rotate(-90)" x="0" y="0" font-size="22.3">INS_to_C&gt;A</text>
<text class="vl" transform="translate(803.29 2376.26) rotate(-90)" x="0" y="4.3" font-size="15" fill="none" stroke="#0f331d" stroke-width="2.6" opacity="0.55">20</text>
<text class="vl" transform="translate(803.29 2376.26) rotate(-90)" x="0" y="4.3" font-size="15" fill="#fff" stroke="#fff" stroke-width="0.5">20</text>
<rect x="824.07" y="2360.4" width="29" height="38.6" fill="#8a78b0" stroke="#756696" stroke-width="0.8"/>
<text class="xl" transform="translate(843.87 2407.5) rotate(-90)" x="0" y="0" font-size="22.3">C&gt;T_to_C&gt;G</text>
<text class="vl" transform="translate(838.57 2379.75) rotate(-90)" x="0" y="4.3" font-size="15" fill="none" stroke="#bfb5d4" stroke-width="2.6" opacity="0.55">17</text>
<text class="vl" transform="translate(838.57 2379.75) rotate(-90)" x="0" y="4.3" font-size="15" fill="#000" stroke="#000" stroke-width="0.5">17</text>
<rect x="859.35" y="2362.72" width="29" height="36.28" fill="#f59a1c" stroke="#d08318" stroke-width="0.8"/>
<text class="xl" transform="translate(879.15 2407.5) rotate(-90)" x="0" y="0" font-size="22.3">A&gt;C_to_INS</text>
<text class="vl" transform="translate(873.85 2380.91) rotate(-90)" x="0" y="4.3" font-size="15" fill="none" stroke="#fac782" stroke-width="2.6" opacity="0.55">16</text>
<text class="vl" transform="translate(873.85 2380.91) rotate(-90)" x="0" y="4.3" font-size="15" fill="#000" stroke="#000" stroke-width="0.5">16</text>
<rect x="894.62" y="2365.04" width="29" height="33.96" fill="#154d74" stroke="#124163" stroke-width="0.8"/>
<text class="xl" transform="translate(914.42 2407.5) rotate(-90)" x="0" y="0" font-size="22.3">INS_to_C&gt;G</text>
<text class="vl" transform="translate(909.12 2382.07) rotate(-90)" x="0" y="4.3" font-size="15" fill="none" stroke="#0c2a40" stroke-width="2.6" opacity="0.55">15</text>
<text class="vl" transform="translate(909.12 2382.07) rotate(-90)" x="0" y="4.3" font-size="15" fill="#fff" stroke="#fff" stroke-width="0.5">15</text>
<rect x="929.9" y="2367.37" width="29" height="31.63" fill="#f8e08b" stroke="#d3be76" stroke-width="0.8"/>
<text class="xl" transform="translate(949.7 2407.5) rotate(-90)" x="0" y="0" font-size="22.3">A&gt;G_to_DEL</text>
<text class="vl" transform="translate(944.4 2383.23) rotate(-90)" x="0" y="4.3" font-size="15" fill="none" stroke="#fbeebf" stroke-width="2.6" opacity="0.55">14</text>
<text class="vl" transform="translate(944.4 2383.23) rotate(-90)" x="0" y="4.3" font-size="15" fill="#000" stroke="#000" stroke-width="0.5">14</text>
<rect x="965.17" y="2367.37" width="29" height="31.63" fill="#f59a1c" stroke="#d08318" stroke-width="0.8"/>
<text class="xl" transform="translate(984.97 2407.5) rotate(-90)" x="0" y="0" font-size="22.3">DEL_to_C&gt;A</text>
<text class="vl" transform="translate(979.67 2383.23) rotate(-90)" x="0" y="4.3" font-size="15" fill="none" stroke="#fac782" stroke-width="2.6" opacity="0.55">14</text>
<text class="vl" transform="translate(979.67 2383.23) rotate(-90)" x="0" y="4.3" font-size="15" fill="#000" stroke="#000" stroke-width="0.5">14</text>
<rect x="1000.45" y="2369.69" width="29" height="29.31" fill="#f4d54a" stroke="#cfb53f" stroke-width="0.8"/>
<text class="xl" transform="translate(1020.25 2407.5) rotate(-90)" x="0" y="0" font-size="22.3">A&gt;C_to_A&gt;T</text>
<text class="vl" transform="translate(1014.95 2384.4) rotate(-90)" x="0" y="4.3" font-size="15" fill="none" stroke="#f9e89b" stroke-width="2.6" opacity="0.55">13</text>
<text class="vl" transform="translate(1014.95 2384.4) rotate(-90)" x="0" y="4.3" font-size="15" fill="#000" stroke="#000" stroke-width="0.5">13</text>
<rect x="1035.73" y="2369.69" width="29" height="29.31" fill="#b9d9e9" stroke="#9db8c6" stroke-width="0.8"/>
<text class="xl" transform="translate(1055.53 2407.5) rotate(-90)" x="0" y="0" font-size="22.3">A&gt;T_to_A&gt;C</text>
<text class="vl" transform="translate(1050.23 2384.4) rotate(-90)" x="0" y="4.3" font-size="15" fill="none" stroke="#d8eaf3" stroke-width="2.6" opacity="0.55">13</text>
<text class="vl" transform="translate(1050.23 2384.4) rotate(-90)" x="0" y="4.3" font-size="15" fill="#000" stroke="#000" stroke-width="0.5">13</text>
<rect x="1071" y="2369.69" width="29" height="29.31" fill="#c2e2f8" stroke="#a5c0d3" stroke-width="0.8"/>
<text class="xl" transform="translate(1090.8 2407.5) rotate(-90)" x="0" y="0" font-size="22.3">C&gt;A_to_DEL</text>
<text class="vl" transform="translate(1085.5 2384.4) rotate(-90)" x="0" y="4.3" font-size="15" fill="none" stroke="#ddeffb" stroke-width="2.6" opacity="0.55">13</text>
<text class="vl" transform="translate(1085.5 2384.4) rotate(-90)" x="0" y="4.3" font-size="15" fill="#000" stroke="#000" stroke-width="0.5">13</text>
<rect x="1106.28" y="2374.11" width="29" height="24.89" fill="#6e8c9c" stroke="#5e7785" stroke-width="0.8"/>
<text class="xl" transform="translate(1126.08 2407.5) rotate(-90)" x="0" y="0" font-size="22.3">C&gt;T_to_DEL</text>
<rect x="1141.55" y="2381.08" width="29" height="17.92" fill="#84d9a1" stroke="#70b889" stroke-width="0.8"/>
<text class="xl" transform="translate(1161.35 2407.5) rotate(-90)" x="0" y="0" font-size="22.3">DEL_to_C&gt;T</text>
<rect x="1176.83" y="2382.94" width="29" height="16.06" fill="#f4d54a" stroke="#cfb53f" stroke-width="0.8"/>
<text class="xl" transform="translate(1196.63 2407.5) rotate(-90)" x="0" y="0" font-size="22.3">DEL_to_A&gt;G</text>
<rect x="1212.11" y="2388.28" width="29" height="10.72" fill="#1f76b2" stroke="#1a6497" stroke-width="0.8"/>
<text class="xl" transform="translate(1231.91 2407.5) rotate(-90)" x="0" y="0" font-size="22.3">C&gt;G_to_INS</text>
<rect x="1247.38" y="2390.6" width="29" height="8.4" fill="#722424" stroke="#611f1f" stroke-width="0.8"/>
<text class="xl" transform="translate(1267.18 2407.5) rotate(-90)" x="0" y="0" font-size="22.3">A&gt;T_to_DEL</text>
<rect x="1282.66" y="2394.32" width="29" height="4.68" fill="#ab9be0" stroke="#9184be" stroke-width="0.8"/>
<text class="xl" transform="translate(1302.46 2407.5) rotate(-90)" x="0" y="0" font-size="22.3">A&gt;C_to_DEL</text>
<rect x="1317.93" y="2394.32" width="29" height="4.68" fill="#2a8a4a" stroke="#24753f" stroke-width="0.8"/>
<text class="xl" transform="translate(1337.73 2407.5) rotate(-90)" x="0" y="0" font-size="22.3">C&gt;G_to_DEL</text>
<rect x="1353.21" y="2394.32" width="29" height="4.68" fill="#ef5050" stroke="#cb4444" stroke-width="0.8"/>
<text class="xl" transform="translate(1373.01 2407.5) rotate(-90)" x="0" y="0" font-size="22.3">DEL_to_A&gt;C</text>
<rect x="1388.49" y="2397.11" width="29" height="1.89" fill="#ab9be0" stroke="#9184be" stroke-width="0.8"/>
<text class="xl" transform="translate(1408.29 2407.5) rotate(-90)" x="0" y="0" font-size="22.3">DEL_to_A&gt;T</text>
<text class="big" transform="translate(647.5 2595.2) scale(1 1.04)" font-size="40.8">C</text>
</svg></body></html>
